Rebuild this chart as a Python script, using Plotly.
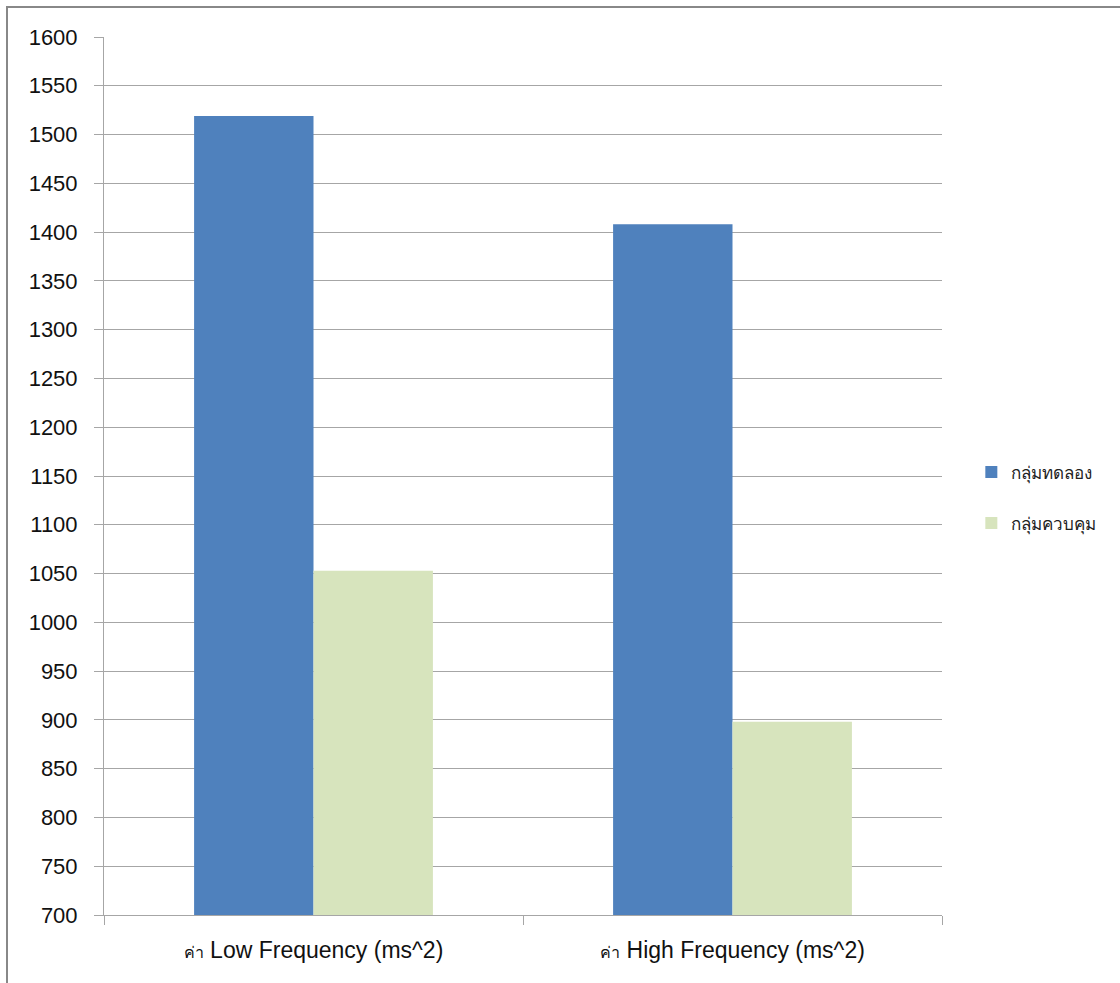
import plotly.graph_objects as go

# Heart-rate variability power by group
categories = ["ค่า Low Frequency (ms^2)", "ค่า High Frequency (ms^2)"]
category_labels = [
    '<span style="font-size:16px">ค่า</span> Low Frequency (ms^2)',
    '<span style="font-size:16px">ค่า</span> High Frequency (ms^2)',
]
experimental_values = [1519, 1408]
control_values = [1053, 898]
series_names = ["กลุ่มทดลอง", "กลุ่มควบคุม"]
y_ticks = list(range(700, 1601, 50))

blue = "#4f81bd"
green = "#d7e4bd"
grid = "#a6a6a6"
font_family = "Liberation Sans, Arial, sans-serif"

fig = go.Figure()
fig.add_trace(go.Bar(x=categories, y=experimental_values, name=series_names[0],
                     legendgroup="a",
                     marker=dict(color=blue, line=dict(width=0))))
fig.add_trace(go.Bar(x=categories, y=control_values, name=series_names[1],
                     legendgroup="b",
                     marker=dict(color=green, line=dict(width=0))))

fig.update_layout(
    width=1120, height=983,
    barmode="group", bargap=0.43, bargroupgap=0,
    plot_bgcolor="white", paper_bgcolor="white",
    margin=dict(l=104, r=178, t=37, b=68, autoexpand=False),
    font=dict(family=font_family, color="#111111", size=20),
    legend=dict(x=1.035, y=0.475, xanchor="left", yanchor="middle",
                font=dict(family="Noto Sans, Liberation Sans, sans-serif", size=17, color="#222222"),
                tracegroupgap=26, itemwidth=30, bgcolor="rgba(0,0,0,0)"),
    yaxis=dict(range=[700, 1600], tickvals=y_ticks, ticktext=[str(v) for v in y_ticks],
               showgrid=True, gridcolor=grid, gridwidth=1,
               showline=True, linecolor=grid, linewidth=1,
               ticks="outside", ticklen=9, tickcolor=grid, ticklabelstandoff=12,
               zeroline=False, tickfont=dict(size=22, family=font_family, color="#111111")),
    xaxis=dict(tickvals=categories, ticktext=category_labels, tickson="boundaries",
               showline=True, linecolor=grid, linewidth=1,
               ticks="outside", ticklen=9, tickcolor=grid, showgrid=False,
               ticklabelstandoff=14,
               tickfont=dict(size=23, family=font_family, color="#111111")),
)

# Outer frame of the chart
fig.add_shape(type="rect", xref="paper", yref="paper",
              x0=(7 - 104) / 838, x1=(1300 - 104) / 838,
              y0=(915 - 1200) / 878, y1=(915 - 7) / 878,
              line=dict(color="#888888", width=2), fillcolor="rgba(0,0,0,0)", layer="below")

fig.write_html("out.html")
